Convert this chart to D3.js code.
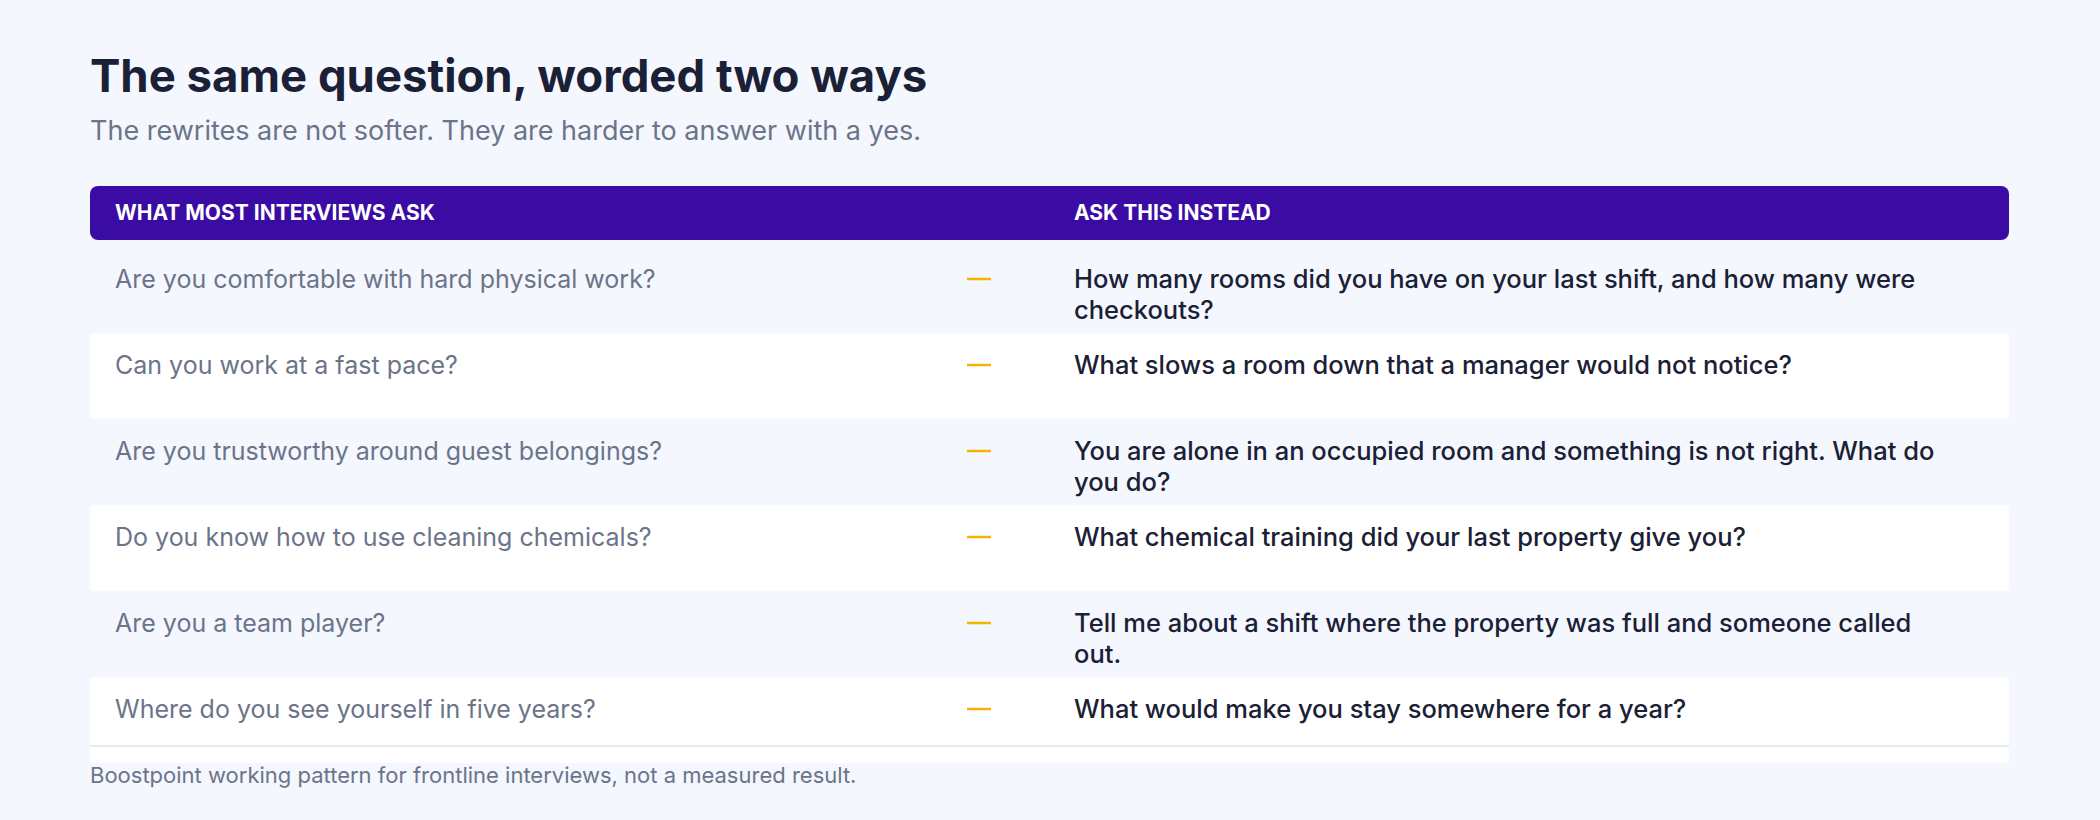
<!DOCTYPE html>
<html>
<head>
<meta charset="utf-8">
<script src="https://cdn.jsdelivr.net/npm/d3@7.9.0/dist/d3.min.js"></script>
<style>
  body { margin: 0; background: #f4f7fe; }
  svg { display: block; font-family: Inter, "Noto Sans", sans-serif; }
</style>
</head>
<body>
<svg id="chart" width="2100" height="820"></svg>
<script>
// ---- Data ----
const headers = ['WHAT MOST INTERVIEWS ASK', 'ASK THIS INSTEAD'];
const asked = [
  'Are you comfortable with hard physical work?',
  'Can you work at a fast pace?',
  'Are you trustworthy around guest belongings?',
  'Do you know how to use cleaning chemicals?',
  'Are you a team player?',
  'Where do you see yourself in five years?'
];
// wrapped the way the reference wraps them
const instead = [
  ['How many rooms did you have on your last shift, and how many were', 'checkouts?'],
  ['What slows a room down that a manager would not notice?'],
  ['You are alone in an occupied room and something is not right. What do', 'you do?'],
  ['What chemical training did your last property give you?'],
  ['Tell me about a shift where the property was full and someone called', 'out.'],
  ['What would make you stay somewhere for a year?']
];
const title = 'The same question, worded two ways';
const subtitle = 'The rewrites are not softer. They are harder to answer with a yes.';
const footnote = 'Boostpoint working pattern for frontline interviews, not a measured result.';

// ---- Layout ----
const left = 90, right = 2009;
const svg = d3.select('#chart');

svg.append('text').attr('x', left).attr('y', 92)
  .attr('font-size', 45.5).attr('font-weight', 700).attr('fill', '#1a2035')
  .text(title);
svg.append('text').attr('x', left).attr('y', 140)
  .attr('font-size', 27).attr('fill', '#6b7489')
  .text(subtitle);

// header
svg.append('rect').attr('x', left).attr('y', 186).attr('width', right - left).attr('height', 54)
  .attr('rx', 8).attr('fill', '#3b0ca3');
const colX = [115, 1074];
headers.forEach((h, i) => {
  svg.append('text').attr('x', colX[i]).attr('y', 220)
    .attr('font-size', 21).attr('font-weight', 700).attr('fill', '#fff')
    .text(h);
});

// rows
const y = d3.scaleBand().domain(d3.range(asked.length)).range([247, 763]);
const rows = svg.selectAll('g.row').data(asked).join('g')
  .attr('class', 'row')
  .attr('transform', (d, i) => `translate(0,${y(i)})`);

rows.append('rect').attr('x', left).attr('width', right - left).attr('height', y.bandwidth())
  .attr('rx', 4)
  .attr('fill', (d, i) => i % 2 ? '#ffffff' : '#f4f7fe');

rows.append('text').attr('x', colX[0]).attr('y', 41)
  .attr('font-size', 25).attr('fill', '#6b7489')
  .text(d => d);

rows.append('line').attr('x1', 967).attr('x2', 991).attr('y1', 32).attr('y2', 32)
  .attr('stroke', '#f5b400').attr('stroke-width', 2.5);

rows.append('text').attr('x', colX[1]).attr('y', 41)
  .attr('font-size', 25.5).attr('font-weight', 500).attr('fill', '#1a2035')
  .selectAll('tspan').data((d, i) => instead[i]).join('tspan')
  .attr('x', colX[1]).attr('dy', (d, j) => j ? 31 : 0)
  .text(d => d);

// bottom rule
svg.append('line').attr('x1', left).attr('x2', right).attr('y1', 746).attr('y2', 746)
  .attr('stroke', '#e1e3f0').attr('stroke-width', 1.5);

svg.append('text').attr('x', left).attr('y', 783)
  .attr('font-size', 22).attr('fill', '#6b7489')
  .text(footnote);
</script>
</body>
</html>
